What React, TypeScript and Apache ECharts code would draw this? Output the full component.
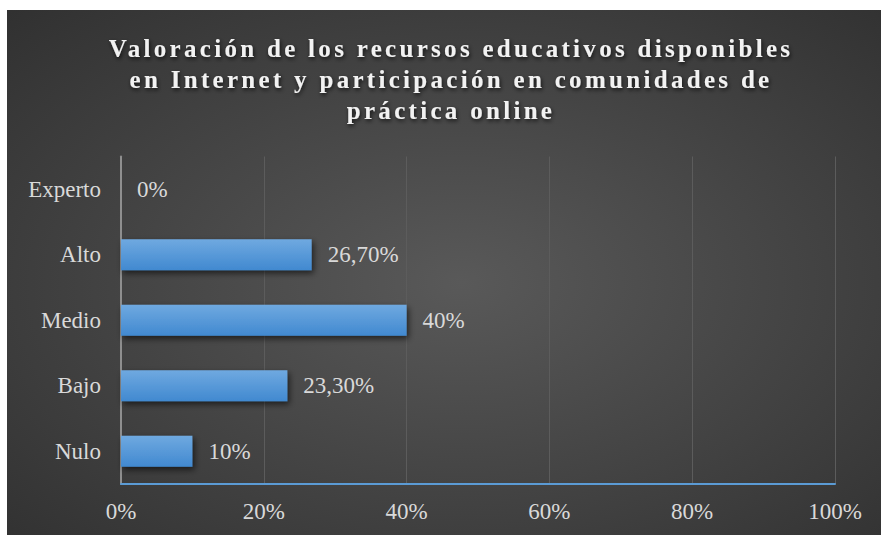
import React, { useEffect, useRef } from "react";
import * as echarts from "echarts";

const titleLines = [
  "Valoración de los recursos educativos disponibles",
  "en Internet y participación en comunidades de",
  "práctica online",
];
const categories = ["Nulo", "Bajo", "Medio", "Alto", "Experto"];
const values = [10, 23.3, 40, 26.7, 0];
const valueLabels = ["10%", "23,30%", "40%", "26,70%", "0%"];

const SERIF = "Liberation Serif";

export default function App() {
  const ref = useRef<HTMLDivElement>(null);

  useEffect(() => {
    if (!ref.current) return;
    const chart = echarts.init(ref.current, null, { renderer: "svg" });
    const titleY = [38, 69, 100];
    chart.setOption({
      animation: false,
      backgroundColor: "transparent",
      graphic: [
        {
          type: "rect",
          z: -10,
          silent: true,
          shape: { x: 0, y: 0, width: 874, height: 525 },
          style: {
            fill: new echarts.graphic.RadialGradient(0.52, 0.52, 0.95, [
              { offset: 0, color: "#595959" },
              { offset: 1, color: "#252525" },
            ]),
          },
        },
        ...titleLines.map((t, i) => ({
          type: "text",
          x: 444,
          y: titleY[i],
          z: 10,
          style: {
            text: t,
            textAlign: "center",
            textVerticalAlign: "middle",
            fill: "#f2f2f2",
            fontFamily: SERIF,
            fontWeight: "bold",
            fontSize: 25,
            textShadowColor: "rgba(0,0,0,0.75)",
            textShadowBlur: 4,
            textShadowOffsetX: 1,
            textShadowOffsetY: 2,
          },
        })),
      ],
      grid: { left: 114, right: 46, top: 146.5, bottom: 51, containLabel: false },
      xAxis: {
        type: "value",
        min: 0,
        max: 100,
        interval: 20,
        axisLine: { show: true, lineStyle: { color: "#5b9bd5", width: 2 } },
        axisTick: { show: false },
        splitLine: { show: true, lineStyle: { color: "#5c5c5c", width: 1 } },
        axisLabel: {
          formatter: "{value}%",
          color: "#d9d9d9",
          fontFamily: SERIF,
          fontSize: 23,
          margin: 16,
        },
      },
      yAxis: {
        type: "category",
        data: categories,
        axisLine: { show: true, lineStyle: { color: "#8f8f8f", width: 2 } },
        axisTick: { show: false },
        axisLabel: {
          color: "#d9d9d9",
          fontFamily: SERIF,
          fontSize: 23,
          margin: 20,
        },
      },
      series: [
        {
          type: "bar",
          data: values,
          barWidth: 31,
          itemStyle: {
            color: new echarts.graphic.LinearGradient(0, 0, 0, 1, [
              { offset: 0, color: "#6fa9e0" },
              { offset: 1, color: "#4189d0" },
            ]),
            shadowColor: "rgba(0,0,0,0.6)",
            shadowBlur: 6,
            shadowOffsetX: 2,
            shadowOffsetY: 3,
          },
          label: {
            show: true,
            position: "right",
            distance: 16,
            color: "#d9d9d9",
            fontFamily: SERIF,
            fontSize: 23,
            formatter: (p: any) => valueLabels[p.dataIndex],
          },
        },
      ],
    });

    const applySpacing = () => {
      const texts = ref.current?.querySelectorAll("text") || [];
      texts.forEach((el) => {
        if (titleLines.includes((el.textContent || "").trim())) {
          el.setAttribute("letter-spacing", "3.3");
        }
      });
    };
    applySpacing();
    chart.on("finished", applySpacing);
    const raf = requestAnimationFrame(applySpacing);

    return () => {
      cancelAnimationFrame(raf);
      chart.dispose();
    };
  }, []);

  return (
    <div
      ref={ref}
      style={{ position: "absolute", left: 7, top: 10, width: 874, height: 525 }}
    />
  );
}
